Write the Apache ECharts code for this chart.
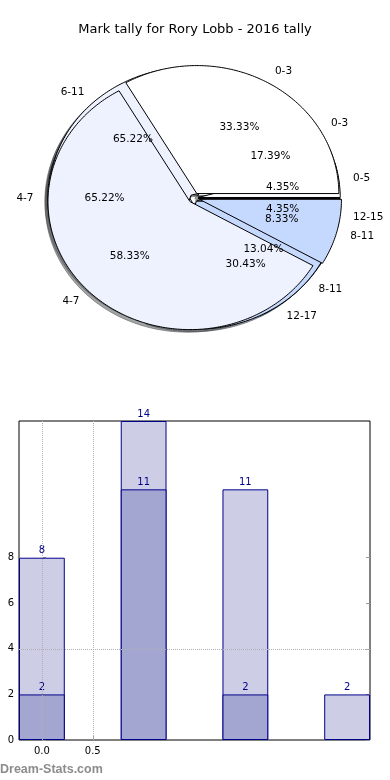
<!DOCTYPE html>
<html><head><meta charset="utf-8">
<script src="https://cdn.jsdelivr.net/npm/echarts@6/dist/echarts.min.js"></script>
<style>html,body{margin:0;padding:0;background:#fff}#c{width:390px;height:780px}</style>
</head><body><div id="c"></div><script>
// ---- data ----
const chartTitle = 'Mark tally for Rory Lobb - 2016 tally';
const pieALabels = ['0-3', '4-7', '8-11', '12-15'];
const pieAValues = [4, 15, 3, 1];
const pieBLabels = ['0-5', '6-11', '12-17'];
const pieBValues = [1, 15, 7];
const pieCLabels = ['0-3', '4-7', '8-11'];
const pieCValues = [4, 7, 1];
const barPositions = [0, 1, 2, 3];
const barTotals = [8, 14, 11, 2];
const barInner = [2, 11, 2, null];
const xTickValues = [0, 0.5];
const yTickValues = [0, 2, 4, 6, 8];
const watermarkText = 'Dream-Stats.com';

// ---- styles ----
const FONT = 'DejaVu Sans';
const pieColors = ['#ffffff', '#edf2fe', '#c5d8fd'];
const shadowColors = ['rgba(77,77,77,0.5)', 'rgba(71,73,76,0.5)', 'rgba(59,65,76,0.5)'];

function buildPie(labels, values, explode) {
  const total = values.reduce((a, b) => a + b, 0);
  let acc = 0;
  const slices = values.map((v, i) => {
    const start = acc / total * 2 * Math.PI;
    acc += v;
    const end = acc / total * 2 * Math.PI;
    return { start, end, mid: (start + end) / 2, label: labels[i], pct: (v / total * 100).toFixed(2) + '%', color: i % pieColors.length };
  });
  return { slices, explode };
}
const pies = [buildPie(pieALabels, pieAValues, 0.03), buildPie(pieBLabels, pieBValues, 0.03), buildPie(pieCLabels, pieCValues, 0.04)];

function wedgePoints(api, s, ox, oy) {
  const pts = [api.coord([ox, oy])];
  const steps = Math.max(4, Math.ceil((s.end - s.start) / (Math.PI / 180)));
  for (let k = 0; k <= steps; k++) {
    const a = s.start + (s.end - s.start) * k / steps;
    pts.push(api.coord([ox + Math.cos(a), oy + Math.sin(a)]));
  }
  return pts;
}

function wedgeSeries(pie, z) {
  return {
    type: 'custom', xAxisIndex: 0, yAxisIndex: 0, z: z, silent: true,
    data: pie.slices.map((s, i) => [0, i]),
    renderItem: function (params, api) {
      const s = pie.slices[params.dataIndex];
      const ox = pie.explode * Math.cos(s.mid), oy = pie.explode * Math.sin(s.mid);
      return { type: 'polygon', shape: { points: wedgePoints(api, s, ox, oy) },
        style: { fill: pieColors[s.color], stroke: '#000', lineWidth: 1 } };
    }
  };
}
function shadowSeries(pie) {
  return {
    type: 'custom', xAxisIndex: 0, yAxisIndex: 0, z: 1, silent: true,
    data: pie.slices.map((s, i) => [0, i]),
    renderItem: function (params, api) {
      const s = pie.slices[params.dataIndex];
      const ox = pie.explode * Math.cos(s.mid) - 0.02, oy = pie.explode * Math.sin(s.mid) - 0.02;
      return { type: 'polygon', shape: { points: wedgePoints(api, s, ox, oy) },
        style: { fill: shadowColors[s.color], stroke: shadowColors[s.color], lineWidth: 1 } };
    }
  };
}
function labelSeries(pie) {
  return {
    type: 'custom', xAxisIndex: 0, yAxisIndex: 0, z: 10, silent: true,
    data: pie.slices.map((s, i) => [0, i]),
    renderItem: function (params, api) {
      const s = pie.slices[params.dataIndex];
      const ox = pie.explode * Math.cos(s.mid), oy = pie.explode * Math.sin(s.mid);
      const c = Math.cos(s.mid), sn = Math.sin(s.mid);
      const lp = api.coord([ox + 1.1 * c, oy + 1.1 * sn]);
      const pp = api.coord([ox + 0.6 * c, oy + 0.6 * sn]);
      return { type: 'group', children: [
        { type: 'text', x: lp[0], y: lp[1], style: { text: s.label, fill: '#000', fontSize: 10.5, fontFamily: FONT, align: c > 0 ? 'left' : 'right', verticalAlign: 'middle' } },
        { type: 'text', x: pp[0], y: pp[1], style: { text: s.pct, fill: '#000', fontSize: 10.5, fontFamily: FONT, align: 'center', verticalAlign: 'middle' } }
      ] };
    }
  };
}

// pie geometry (px per unit)
const PCX = 194, PCY = 198, PRX = 142, PRY = 128, PR = 1.3;
// bar grid
const BL = 19, BT = 421, BW = 351, BH = 319, XMIN = -0.225, XMAX = 3.225;
const barPx = 0.45 * BW / (XMAX - XMIN);

const chart = echarts.init(document.getElementById('c'), null, { renderer: 'canvas' });
const series = [];
pies.forEach(p => series.push(shadowSeries(p)));
pies.forEach((p, i) => series.push(wedgeSeries(p, 2 + i)));
pies.forEach(p => series.push(labelSeries(p)));

const barLabel = { show: true, position: 'top', distance: 2, color: '#00008b', fontSize: 10, fontFamily: FONT };
series.push({
  type: 'bar', xAxisIndex: 1, yAxisIndex: 1, barWidth: barPx, barGap: '-100%', z: 2,
  data: barPositions.map((x, i) => [x, barTotals[i]]),
  itemStyle: { color: '#cdcee6', borderColor: '#00008b', borderWidth: 1 },
  label: barLabel
});
series.push({
  type: 'bar', xAxisIndex: 1, yAxisIndex: 1, barWidth: barPx, barGap: '-100%', z: 3,
  data: barPositions.map((x, i) => barInner[i] == null ? [x, '-'] : [x, barInner[i]]),
  itemStyle: { color: '#a3a6d1', borderColor: '#00008b', borderWidth: 1 },
  label: barLabel,
  markLine: {
    silent: true, symbol: 'none', animation: false,
    label: { show: false },
    lineStyle: { type: 'dotted', color: '#b0b0b0', width: 1 },
    data: [{ xAxis: xTickValues[0] }, { xAxis: xTickValues[1] }, { yAxis: yTickValues[2] }]
  }
});

const tickStyle = { inside: true, length: 4, lineStyle: { color: '#999' } };
chart.setOption({
  animation: false,
  backgroundColor: '#fff',
  title: { text: chartTitle, left: 'center', top: 18, textStyle: { fontSize: 13, fontWeight: 'normal', fontFamily: FONT, color: '#000' } },
  grid: [
    { left: PCX - PR * PRX, top: PCY - PR * PRY, width: 2 * PR * PRX, height: 2 * PR * PRY, show: false },
    { left: BL, top: BT, width: BW, height: BH, show: true, borderColor: '#000', borderWidth: 1, backgroundColor: 'transparent' }
  ],
  xAxis: [
    { gridIndex: 0, type: 'value', min: -PR, max: PR, show: false },
    { gridIndex: 1, type: 'value', min: XMIN, max: XMAX,
      axisLine: { show: false }, splitLine: { show: false },
      axisTick: Object.assign({ customValues: xTickValues }, tickStyle),
      axisLabel: { customValues: xTickValues, formatter: v => Number(v).toFixed(1), color: '#000', fontSize: 10, fontFamily: FONT, margin: 6 } }
  ],
  yAxis: [
    { gridIndex: 0, type: 'value', min: -PR, max: PR, show: false },
    { gridIndex: 1, type: 'value', min: 0, max: 14, interval: 2,
      axisLine: { show: false }, splitLine: { show: false },
      axisTick: Object.assign({ customValues: yTickValues }, tickStyle),
      axisLabel: { customValues: yTickValues, formatter: v => (v <= 8 ? String(v) : ''), color: '#000', fontSize: 10, fontFamily: FONT, margin: 5 } },
    { gridIndex: 1, type: 'value', position: 'right', min: 0, max: 14, interval: 2,
      axisLine: { show: false }, splitLine: { show: false },
      axisTick: Object.assign({ customValues: yTickValues }, tickStyle),
      axisLabel: { show: false } }
  ],
  graphic: [{ type: 'text', left: 0, top: 763, style: { text: watermarkText, fill: '#8c8c8c', font: 'bold 12.5px "Liberation Sans"' } }],
  series: series
});
</script></body></html>
